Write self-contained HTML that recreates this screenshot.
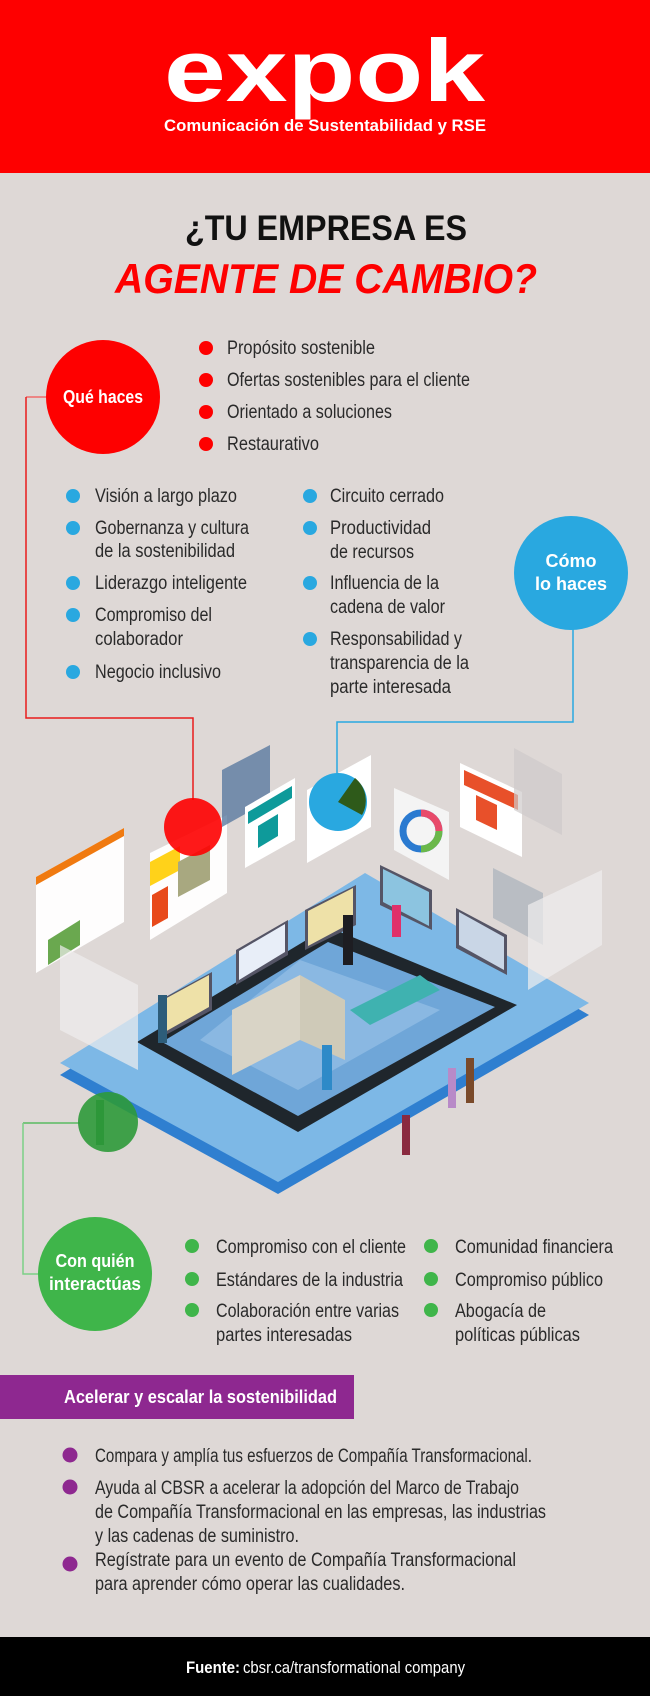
<!DOCTYPE html>
<html><head><meta charset="utf-8"><style>
html,body{margin:0;padding:0;background:#ded8d6}
svg{display:block}
text{font-family:"Liberation Sans",sans-serif}
.t{font-size:19px;fill:#2a2a2a}
.b{font-weight:bold;fill:#fff}
</style></head><body>
<svg width="650" height="1696" viewBox="0 0 650 1696" xmlns="http://www.w3.org/2000/svg">
<rect width="650" height="1696" fill="#ded8d6"/>
<!-- header -->
<rect width="650" height="173" fill="#fe0000"/>
<text x="164" y="101" font-size="88" font-weight="bold" fill="#fff" textLength="321" lengthAdjust="spacingAndGlyphs">expok</text>
<text x="164" y="131" font-size="17" font-weight="bold" fill="#fff" textLength="322" lengthAdjust="spacingAndGlyphs">Comunicación de Sustentabilidad y RSE</text>
<!-- title -->
<text x="185" y="240" font-size="35" font-weight="bold" fill="#111" textLength="282" lengthAdjust="spacingAndGlyphs">¿TU EMPRESA ES</text>
<text x="115" y="293" font-size="42" font-weight="bold" font-style="italic" fill="#fe0000" textLength="422" lengthAdjust="spacingAndGlyphs">AGENTE DE CAMBIO?</text>

<!-- connectors -->
<polyline points="26,397 48,397" fill="none" stroke="#f06a6a" stroke-width="1.5"/>
<polyline points="26,397 26,718 193,718 193,800" fill="none" stroke="#e81c1c" stroke-width="1.5"/>
<polyline points="573,625 573,722 337,722 337,775" fill="none" stroke="#29a8e0" stroke-width="1.5"/>
<polyline points="23,1123 80,1123" fill="none" stroke="#3fb54a" stroke-width="1.2"/>
<polyline points="23,1123 23,1274 40,1274" fill="none" stroke="#7ccf86" stroke-width="1.5"/>

<!-- Qué haces -->
<circle cx="103" cy="397" r="57" fill="#fe0000"/>
<text x="63" y="403" font-size="18" class="b" textLength="80" lengthAdjust="spacingAndGlyphs">Qué haces</text>
<g fill="#fe0000"><circle cx="206" cy="348" r="7"/><circle cx="206" cy="380" r="7"/><circle cx="206" cy="412" r="7"/><circle cx="206" cy="444" r="7"/></g>
<text class="t" x="227" y="354" textLength="148" lengthAdjust="spacingAndGlyphs">Propósito sostenible</text>
<text class="t" x="227" y="386" textLength="243" lengthAdjust="spacingAndGlyphs">Ofertas sostenibles para el cliente</text>
<text class="t" x="227" y="418" textLength="165" lengthAdjust="spacingAndGlyphs">Orientado a soluciones</text>
<text class="t" x="227" y="450" textLength="92" lengthAdjust="spacingAndGlyphs">Restaurativo</text>

<!-- Cómo -->
<g fill="#29a8e0"><circle cx="73" cy="496" r="7"/><circle cx="73" cy="528" r="7"/><circle cx="73" cy="583" r="7"/><circle cx="73" cy="615" r="7"/><circle cx="73" cy="672" r="7"/>
<circle cx="310" cy="496" r="7"/><circle cx="310" cy="528" r="7"/><circle cx="310" cy="583" r="7"/><circle cx="310" cy="639" r="7"/></g>
<text class="t" x="95" y="502" textLength="142" lengthAdjust="spacingAndGlyphs">Visión a largo plazo</text>
<text class="t" x="95" y="534" textLength="154" lengthAdjust="spacingAndGlyphs">Gobernanza y cultura</text>
<text class="t" x="95" y="557" textLength="140" lengthAdjust="spacingAndGlyphs">de la sostenibilidad</text>
<text class="t" x="95" y="589" textLength="152" lengthAdjust="spacingAndGlyphs">Liderazgo inteligente</text>
<text class="t" x="95" y="621" textLength="117" lengthAdjust="spacingAndGlyphs">Compromiso del</text>
<text class="t" x="95" y="645" textLength="88" lengthAdjust="spacingAndGlyphs">colaborador</text>
<text class="t" x="95" y="678" textLength="126" lengthAdjust="spacingAndGlyphs">Negocio inclusivo</text>
<text class="t" x="330" y="502" textLength="114" lengthAdjust="spacingAndGlyphs">Circuito cerrado</text>
<text class="t" x="330" y="534" textLength="101" lengthAdjust="spacingAndGlyphs">Productividad</text>
<text class="t" x="330" y="558" textLength="84" lengthAdjust="spacingAndGlyphs">de recursos</text>
<text class="t" x="330" y="589" textLength="109" lengthAdjust="spacingAndGlyphs">Influencia de la</text>
<text class="t" x="330" y="613" textLength="115" lengthAdjust="spacingAndGlyphs">cadena de valor</text>
<text class="t" x="330" y="645" textLength="132" lengthAdjust="spacingAndGlyphs">Responsabilidad y</text>
<text class="t" x="330" y="669" textLength="139" lengthAdjust="spacingAndGlyphs">transparencia de la</text>
<text class="t" x="330" y="693" textLength="121" lengthAdjust="spacingAndGlyphs">parte interesada</text>
<circle cx="571" cy="573" r="57" fill="#29a8e0"/>
<text x="571" y="567" font-size="18" class="b" text-anchor="middle">Cómo</text>
<text x="571" y="590" font-size="18" class="b" text-anchor="middle">lo haces</text>

<!-- illustration -->
<g>
<polygon points="365,885 589,1015 278,1194 60,1075" fill="#2f7fd0"/>
<polygon points="365,873 589,1003 278,1182 60,1063" fill="#7db8e6"/>
<polygon points="328,927 517,1005 298,1132 137,1042" fill="#1f262c"/>
<polygon points="328,942 495,1007 298,1116 162,1042" fill="#6fa6d8"/>
<polygon points="300,960 440,1010 298,1090 200,1040" fill="#8ab8e2"/>
<polygon points="232,1010 300,975 300,1040 232,1075" fill="#d9d4c6"/>
<polygon points="300,975 345,1000 345,1060 300,1040" fill="#cfcab8"/>
<polygon points="350,1010 420,975 440,990 370,1025" fill="#3fb2b0"/>
<polygon points="160,1000 212,972 212,1010 160,1038" fill="#556" /><polygon points="163,1000 209,975 209,1007 163,1033" fill="#eee1a8"/>
<polygon points="236,950 288,920 288,955 236,985" fill="#556"/><polygon points="239,951 285,924 285,952 239,980" fill="#e8eef8"/>
<polygon points="305,910 356,885 356,925 305,950" fill="#556"/><polygon points="308,911 353,888 353,922 308,946" fill="#eee1a8"/>
<polygon points="380,865 432,890 432,930 380,905" fill="#556"/><polygon points="383,869 429,892 429,926 383,902" fill="#8cc4e0"/>
<polygon points="456,908 507,935 507,975 456,948" fill="#556"/><polygon points="459,912 504,937 504,970 459,945" fill="#c9d6e6"/>
<rect x="343" y="915" width="10" height="50" fill="#1d1d22"/>
<rect x="392" y="905" width="9" height="32" fill="#e0306a"/>
<rect x="158" y="995" width="9" height="48" fill="#2d5d7a"/>
<rect x="322" y="1045" width="10" height="45" fill="#2e8ac8"/>
<rect x="448" y="1068" width="8" height="40" fill="#b88ac8"/>
<rect x="466" y="1058" width="8" height="45" fill="#7a4a2a"/>
<rect x="402" y="1115" width="8" height="40" fill="#8a2a40"/>
<rect x="96" y="1100" width="8" height="45" fill="#2e7a3a"/>
<polygon points="36,877 124,828 124,922 36,973" fill="#fff" opacity=".95"/>
<polygon points="36,877 124,828 124,836 36,885" fill="#f07a10"/>
<polygon points="48,940 80,920 80,945 48,965" fill="#6aa84f"/>
<polygon points="150,853 227,815 227,893 150,940" fill="#fff" opacity=".95"/>
<polygon points="150,862 180,846 180,870 150,886" fill="#ffd21a"/>
<polygon points="152,895 168,886 168,918 152,927" fill="#e84a1a"/>
<polygon points="178,862 210,845 210,880 178,897" fill="#a8a880"/>
<polygon points="222,770 270,745 270,800 222,827" fill="#5a7aa0" opacity=".8"/>
<polygon points="245,807 295,778 295,840 245,868" fill="#fff"/>
<polygon points="248,812 292,786 292,798 248,824" fill="#0e9a9a"/>
<polygon points="258,826 278,814 278,836 258,848" fill="#0e9a9a"/>
<polygon points="307,790 371,755 371,827 307,863" fill="#fff"/>
<circle cx="338" cy="802" r="29" fill="#29a8e0"/>
<path d="M338,802 L355,778 A29,29 0 0 1 362,815 Z" fill="#2e5a1a"/>
<polygon points="394,788 449,812 449,880 394,850" fill="#f4f4f4"/>
<circle cx="421" cy="831" r="18" fill="none" stroke="#2a7ad0" stroke-width="7"/>
<path d="M421,813 A18,18 0 0 1 439,831" fill="none" stroke="#e84a6a" stroke-width="7"/>
<path d="M439,831 A18,18 0 0 1 421,849" fill="none" stroke="#6ab84a" stroke-width="7"/>
<polygon points="460,763 522,792 522,857 460,827" fill="#fff"/>
<polygon points="464,770 518,795 518,810 464,785" fill="#e8502a"/>
<polygon points="476,795 497,805 497,830 476,820" fill="#e8502a"/>
<polygon points="514,748 562,774 562,835 514,810" fill="#cfcaca" opacity=".7"/>
<polygon points="493,868 543,893 543,945 493,918" fill="#aab2ba" opacity=".7"/>
<polygon points="528,905 602,870 602,945 528,990" fill="#f0eeee" opacity=".7"/>
<polygon points="60,945 138,985 138,1070 60,1030" fill="#f0eeee" opacity=".7"/>
<circle cx="193" cy="827" r="29" fill="#fe0000" opacity=".9"/>
<circle cx="108" cy="1122" r="30" fill="#2e9a3a" opacity=".9"/>
</g>

<!-- Con quién -->
<ellipse cx="95" cy="1274" rx="57" ry="57" fill="#3fb54a"/>
<text x="95" y="1267" font-size="18" class="b" text-anchor="middle" textLength="79" lengthAdjust="spacingAndGlyphs">Con quién</text>
<text x="95" y="1290" font-size="18" class="b" text-anchor="middle" textLength="92" lengthAdjust="spacingAndGlyphs">interactúas</text>
<g fill="#3fb54a"><circle cx="192" cy="1246" r="7"/><circle cx="192" cy="1279" r="7"/><circle cx="192" cy="1310" r="7"/><circle cx="431" cy="1246" r="7"/><circle cx="431" cy="1279" r="7"/><circle cx="431" cy="1310" r="7"/></g>
<text class="t" x="216" y="1253" textLength="190" lengthAdjust="spacingAndGlyphs">Compromiso con el cliente</text>
<text class="t" x="216" y="1286" textLength="187" lengthAdjust="spacingAndGlyphs">Estándares de la industria</text>
<text class="t" x="216" y="1317" textLength="183" lengthAdjust="spacingAndGlyphs">Colaboración entre varias</text>
<text class="t" x="216" y="1341" textLength="136" lengthAdjust="spacingAndGlyphs">partes interesadas</text>
<text class="t" x="455" y="1253" textLength="158" lengthAdjust="spacingAndGlyphs">Comunidad financiera</text>
<text class="t" x="455" y="1286" textLength="148" lengthAdjust="spacingAndGlyphs">Compromiso público</text>
<text class="t" x="455" y="1317" textLength="91" lengthAdjust="spacingAndGlyphs">Abogacía de</text>
<text class="t" x="455" y="1341" textLength="125" lengthAdjust="spacingAndGlyphs">políticas públicas</text>

<!-- purple -->
<rect x="0" y="1375" width="354" height="44" fill="#8e2890"/>
<text x="64" y="1403" font-size="18" class="b" textLength="273" lengthAdjust="spacingAndGlyphs">Acelerar y escalar la sostenibilidad</text>
<g fill="#8e2890"><circle cx="70" cy="1455" r="7.5"/><circle cx="70" cy="1487" r="7.5"/><circle cx="70" cy="1564" r="7.5"/></g>
<text class="t" x="95" y="1462" textLength="437" lengthAdjust="spacingAndGlyphs">Compara y amplía tus esfuerzos de Compañía Transformacional.</text>
<text class="t" x="95" y="1494" textLength="424" lengthAdjust="spacingAndGlyphs">Ayuda al CBSR a acelerar la adopción del Marco de Trabajo</text>
<text class="t" x="95" y="1518" textLength="451" lengthAdjust="spacingAndGlyphs">de Compañía Transformacional en las empresas, las industrias</text>
<text class="t" x="95" y="1542" textLength="204" lengthAdjust="spacingAndGlyphs">y las cadenas de suministro.</text>
<text class="t" x="95" y="1566" textLength="421" lengthAdjust="spacingAndGlyphs">Regístrate para un evento de Compañía Transformacional</text>
<text class="t" x="95" y="1590" textLength="310" lengthAdjust="spacingAndGlyphs">para aprender cómo operar las cualidades.</text>

<!-- footer -->
<rect x="0" y="1637" width="650" height="59" fill="#000"/>
<text x="186" y="1673" font-size="17" font-weight="bold" fill="#fff" textLength="54" lengthAdjust="spacingAndGlyphs">Fuente:</text>
<text x="243" y="1673" font-size="17" fill="#fff" textLength="222" lengthAdjust="spacingAndGlyphs">cbsr.ca/transformational company</text>
</svg>
</body></html>
